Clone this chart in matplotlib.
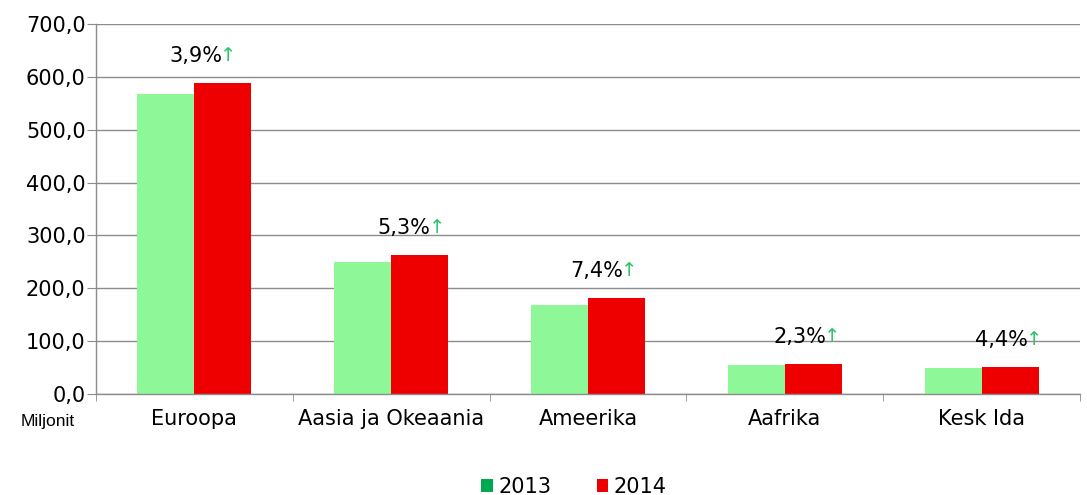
import numpy as np
import matplotlib.pyplot as plt

regions = ["Euroopa", "Aasia ja Okeaania", "Ameerika", "Aafrika", "Kesk Ida"]
vals_2013 = [567.5, 249.5, 168.0, 55.0, 49.0]
vals_2014 = [588.0, 263.0, 181.5, 56.5, 51.0]
growth = ["3,9%", "5,3%", "7,4%", "2,3%", "4,4%"]

GRID = "#8c8c8c"
FS = 15
# horizontal nudge of the growth labels (in category units)
label_dx = [0.14, 0.20, 0.18, 0.21, 0.235]

fig = plt.figure(figsize=(10.87, 4.95), dpi=100)
ax = fig.add_axes([0.0883, 0.204, 0.9053, 0.7475])

x = np.arange(len(regions))
w = 0.29
ax.bar(x - w / 2, vals_2013, w, color="#8ef898", zorder=2)
ax.bar(x + w / 2, vals_2014, w, color="#ee0000", zorder=2)
# legend proxies (legend swatch is a darker green than the bars)
ax.bar([0], [0], 0, color="#00a84f", label="2013")
ax.bar([0], [0], 0, color="#ee0000", label="2014")

for i, (g, v) in enumerate(zip(growth, vals_2014)):
    ax.text(i + label_dx[i], v + 52, g, ha="right", va="center", fontsize=FS,
            color="black", zorder=3)
    ax.text(i + label_dx[i] - 0.01, v + 52, "\u2191", ha="left", va="center",
            fontsize=FS - 1, color="#2ec46a", zorder=3)

ax.set_xlim(-0.5, len(regions) - 0.5)
ax.set_ylim(0, 700)
ax.set_yticks(np.arange(0, 701, 100))
ax.set_yticklabels([f"{t:.1f}".replace(".", ",") for t in np.arange(0, 701, 100)], fontsize=FS)
ax.set_xticks(x)
ax.set_xticklabels(regions, fontsize=FS)
ax.set_xticks(np.arange(-0.5, len(regions)), minor=True)
ax.tick_params(axis="x", which="major", length=0, pad=11)
ax.tick_params(axis="x", which="minor", length=5, color=GRID)
ax.tick_params(axis="y", length=6.5, color=GRID, pad=1)
ax.yaxis.grid(True, color=GRID, linewidth=1.0, zorder=0)
for s in ["top", "right"]:
    ax.spines[s].set_visible(False)
for s in ["left", "bottom"]:
    ax.spines[s].set_color(GRID)
    ax.spines[s].set_linewidth(1.0)

fig.text(0.044, 0.149, "Miljonit", fontsize=12.5, ha="center", va="center",
         family="Liberation Sans")

fig.legend(loc="center", bbox_to_anchor=(0.528, 0.016), ncol=2, frameon=False,
           fontsize=FS, handlelength=0.55, handleheight=0.55, handletextpad=0.25,
           columnspacing=2.2)

fig.savefig("out.png", dpi=100)
